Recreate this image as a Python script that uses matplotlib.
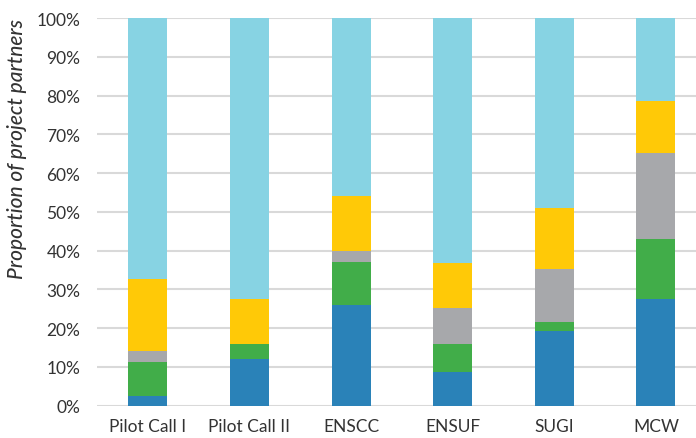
import numpy as np
import matplotlib.pyplot as plt
from matplotlib.ticker import PercentFormatter

categories = ["Pilot Call I", "Pilot Call II", "ENSCC", "ENSUF", "SUGI", "MCW"]

# share of partners (%) per segment, bottom to top
seg_blue = [2.6, 12.1, 26.0, 8.8, 19.3, 27.6]
seg_green = [8.7, 3.8, 11.1, 7.1, 2.3, 15.4]
seg_gray = [2.9, 0.0, 2.9, 9.3, 13.7, 22.3]
seg_yellow = [18.6, 11.7, 14.1, 11.7, 15.7, 13.4]
seg_light = [67.2, 72.4, 45.9, 63.1, 49.0, 21.3]

segments = [seg_blue, seg_green, seg_gray, seg_yellow, seg_light]
colors = ["#2a82b8", "#41ad49", "#a7a8ab", "#ffc907", "#87d3e3"]

plt.rcParams['font.family'] = ['Lato', 'DejaVu Sans']

fig = plt.figure(figsize=(6.96, 4.39), dpi=100)
ax = fig.add_axes([0.1394, 0.0736, 0.876, 0.8831])

x = np.arange(len(categories))
bottom = np.zeros(len(categories))
for vals, c in zip(segments, colors):
    ax.bar(x, vals, width=0.384, bottom=bottom, color=c, zorder=3)
    bottom += np.array(vals)

ax.set_xlim(-0.5, 5.5)
ax.set_ylim(0, 100)
ax.set_yticks(np.arange(0, 101, 10))
ax.yaxis.set_major_formatter(PercentFormatter(decimals=0))
ax.set_xticks(x)
ax.set_xticklabels(categories)
ax.grid(axis='y', color='#d9d9d9', linewidth=1.5, zorder=0)
for s in ax.spines.values():
    s.set_visible(False)
ax.tick_params(axis='both', length=0, labelsize=12.5, colors='#333333')
ax.tick_params(axis='y', pad=12)
ax.tick_params(axis='x', pad=9)

# y label sits above centre in the original
fig.text(17.5 / 696, 1 - 149 / 439, "Proportion of project partners", rotation=90,
         ha='center', va='center', fontsize=15, style='italic',
         fontweight='medium', color='#333333')

fig.savefig("out.png", dpi=100)
